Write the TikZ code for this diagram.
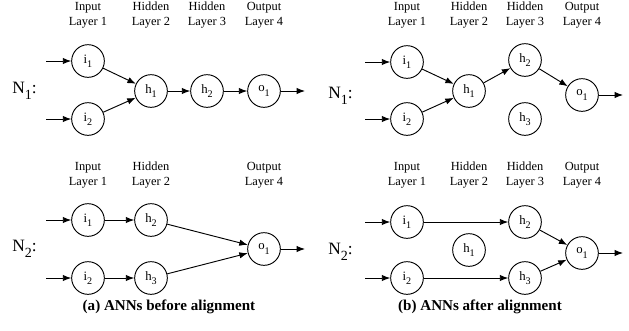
\documentclass[tikz,border=0pt]{standalone}
\usepackage{fontspec}
\setmainfont{Liberation Serif}
\usetikzlibrary{arrows.meta}
% subscript set a little larger and lower than \textsubscript
\newcommand{\lowsub}[1]{\raisebox{-0.32em}{\fontsize{7.6}{8}\selectfont #1}}
\newcommand{\bigsub}[1]{\raisebox{-0.32em}{\fontsize{10.5}{11}\selectfont #1}}
\begin{document}
\begin{tikzpicture}[x=0.75pt,y=-0.75pt,
  neuron/.style={draw,circle,line width=0.7pt,minimum size=24.5pt,inner sep=0pt,
    font=\fontsize{9.6}{10}\selectfont},
  layerhead/.style={align=center,font=\fontsize{9.3}{11}\selectfont,inner sep=0pt},
  netname/.style={anchor=west,inner sep=0pt,font=\fontsize{13}{14}\selectfont},
  capt/.style={font=\bfseries\fontsize{11.3}{12}\selectfont,inner sep=0pt},
  conn/.style={line width=0.7pt,-{Latex[length=6.3pt,width=4.8pt]}}]
\useasboundingbox (0,0) rectangle (629,330);

% ---------- (a) before alignment ----------
% N1
\node[layerhead] (a1h1) at (88,15) {Input\\Layer 1};
\node[layerhead] (a1h2) at (151,15) {Hidden\\Layer 2};
\node[layerhead] (a1h3) at (207,15) {Hidden\\Layer 3};
\node[layerhead] (a1h4) at (264,15) {Output\\Layer 4};
\node[netname] (aN1) at (12,91) {N\bigsub{1}:};
\node[neuron] (a1i1) at (88,61) {i\lowsub{1}};
\node[neuron] (a1i2) at (88,119) {i\lowsub{2}};
\node[neuron] (a1h1n) at (151,91) {h\lowsub{1}};
\node[neuron] (a1h2n) at (207,91) {h\lowsub{2}};
\node[neuron] (a1o1) at (264,91) {o\lowsub{1}};
\coordinate (a1in1) at (46,61);
\coordinate (a1in2) at (46,119);
\coordinate (a1out) at (305,91);
\draw[conn] (a1in1) -- (a1i1);
\draw[conn] (a1in2) -- (a1i2);
\draw[conn] (a1i1) -- (a1h1n);
\draw[conn] (a1i2) -- (a1h1n);
\draw[conn] (a1h1n) -- (a1h2n);
\draw[conn] (a1h2n) -- (a1o1);
\draw[conn] (a1o1) -- (a1out);

% N2
\node[layerhead] (a2h1) at (88,175) {Input\\Layer 1};
\node[layerhead] (a2h2) at (151,175) {Hidden\\Layer 2};
\node[layerhead] (a2h4) at (264,175) {Output\\Layer 4};
\node[netname] (aN2) at (12,249) {N\bigsub{2}:};
\node[neuron] (a2i1) at (88,220) {i\lowsub{1}};
\node[neuron] (a2i2) at (88,278) {i\lowsub{2}};
\node[neuron] (a2h2n) at (151,220) {h\lowsub{2}};
\node[neuron] (a2h3n) at (151,278) {h\lowsub{3}};
\node[neuron] (a2o1) at (264,249) {o\lowsub{1}};
\coordinate (a2in1) at (46,220);
\coordinate (a2in2) at (46,278);
\coordinate (a2out) at (305,249);
\draw[conn] (a2in1) -- (a2i1);
\draw[conn] (a2in2) -- (a2i2);
\draw[conn] (a2i1) -- (a2h2n);
\draw[conn] (a2i2) -- (a2h3n);
\draw[conn] (a2h2n) -- (a2o1);
\draw[conn] (a2h3n) -- (a2o1);
\draw[conn] (a2o1) -- (a2out);

\node[capt] (capa) at (169,307) {(a) ANNs before alignment};

% ---------- (b) after alignment ----------
% N1
\node[layerhead] (b1h1) at (407,15) {Input\\Layer 1};
\node[layerhead] (b1h2) at (469,15) {Hidden\\Layer 2};
\node[layerhead] (b1h3) at (525,15) {Hidden\\Layer 3};
\node[layerhead] (b1h4) at (582,15) {Output\\Layer 4};
\node[netname] (bN1) at (328,96) {N\bigsub{1}:};
\node[neuron] (b1i1) at (407,62) {i\lowsub{1}};
\node[neuron] (b1i2) at (407,119) {i\lowsub{2}};
\node[neuron] (b1h1n) at (469,91) {h\lowsub{1}};
\node[neuron] (b1h2n) at (525,60) {h\lowsub{2}};
\node[neuron] (b1h3n) at (525,119) {h\lowsub{3}};
\node[neuron] (b1o1) at (582,95) {o\lowsub{1}};
\coordinate (b1in1) at (365,62);
\coordinate (b1in2) at (365,119);
\coordinate (b1out) at (623,95);
\draw[conn] (b1in1) -- (b1i1);
\draw[conn] (b1in2) -- (b1i2);
\draw[conn] (b1i1) -- (b1h1n);
\draw[conn] (b1i2) -- (b1h1n);
\draw[conn] (b1h1n) -- (b1h2n);
\draw[conn] (b1h2n) -- (b1o1);
\draw[conn] (b1o1) -- (b1out);

% N2
\node[layerhead] (b2h1) at (407,175) {Input\\Layer 1};
\node[layerhead] (b2h2) at (469,175) {Hidden\\Layer 2};
\node[layerhead] (b2h3) at (525,175) {Hidden\\Layer 3};
\node[layerhead] (b2h4) at (582,175) {Output\\Layer 4};
\node[netname] (bN2) at (328,252) {N\bigsub{2}:};
\node[neuron] (b2i1) at (407,222) {i\lowsub{1}};
\node[neuron] (b2i2) at (407,278) {i\lowsub{2}};
\node[neuron] (b2h1n) at (469,250) {h\lowsub{1}};
\node[neuron] (b2h2n) at (525,222) {h\lowsub{2}};
\node[neuron] (b2h3n) at (525,278) {h\lowsub{3}};
\node[neuron] (b2o1) at (582,253) {o\lowsub{1}};
\coordinate (b2in1) at (365,222);
\coordinate (b2in2) at (365,278);
\coordinate (b2out) at (623,253);
\draw[conn] (b2in1) -- (b2i1);
\draw[conn] (b2in2) -- (b2i2);
\draw[conn] (b2i1) -- (b2h2n);
\draw[conn] (b2i2) -- (b2h3n);
\draw[conn] (b2h2n) -- (b2o1);
\draw[conn] (b2h3n) -- (b2o1);
\draw[conn] (b2o1) -- (b2out);

\node[capt] (capb) at (480,307) {(b) ANNs after alignment};
\end{tikzpicture}
\end{document}
